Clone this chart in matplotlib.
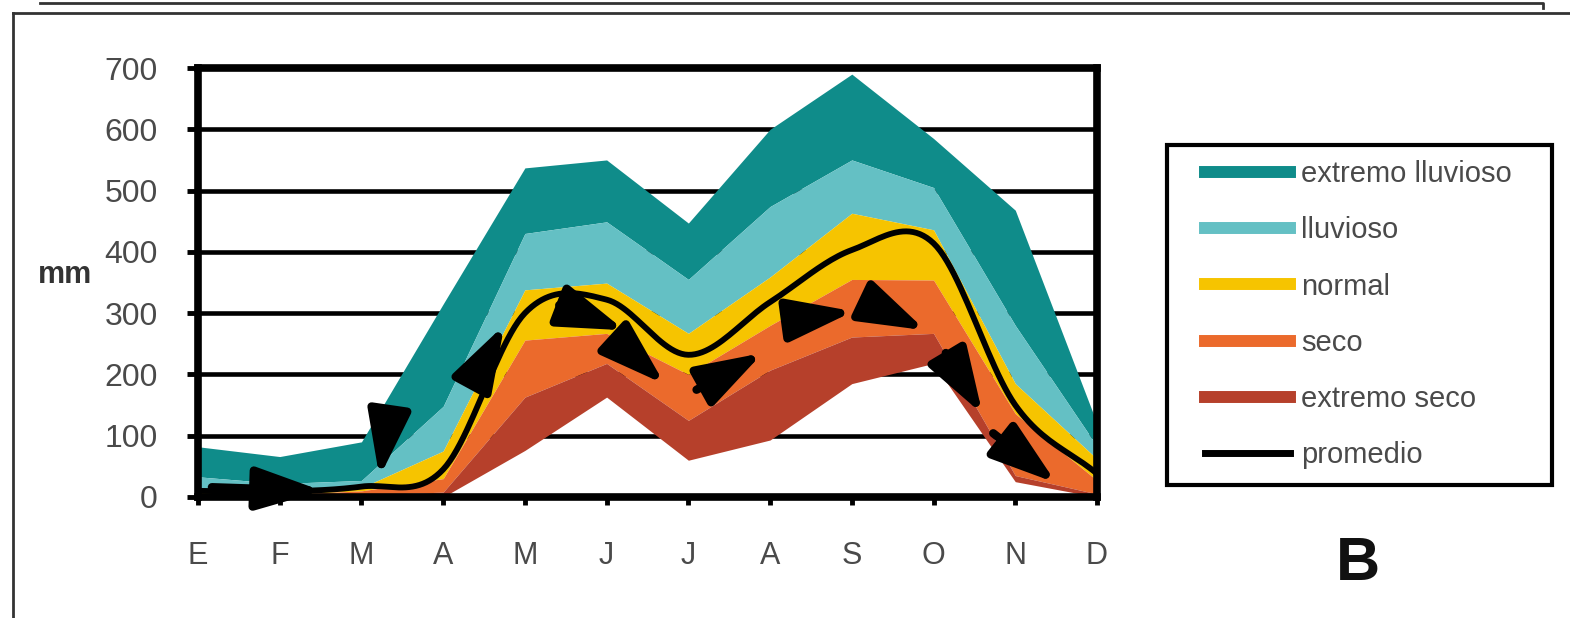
import numpy as np
import matplotlib
matplotlib.use("Agg")
import matplotlib.pyplot as plt
from matplotlib.lines import Line2D
from matplotlib.patches import Rectangle

plt.rcParams['font.family'] = ['Liberation Sans', 'DejaVu Sans']

# ---------------- data ----------------
months = ['E', 'F', 'M', 'A', 'M', 'J', 'J', 'A', 'S', 'O', 'N', 'D']
extremo_lluvioso = [82, 66, 90, 315, 537, 550, 447, 600, 690, 585, 468, 120]
lluvioso         = [33, 22, 27, 148, 430, 449, 355, 474, 550, 505, 280, 83]
normal           = [10, 8, 15, 75, 338, 349, 267, 359, 463, 436, 185, 62]
seco             = [4, 4, 10, 30, 256, 267, 200, 280, 355, 354, 136, 27]
extremo_seco     = [1, 1, 3, 8, 163, 218, 125, 207, 261, 267, 35, 5]
base_seco        = [0, 0, 0, 0, 76, 163, 60, 93, 185, 218, 25, 0]
promedio         = [10, 9, 17, 45, 300, 322, 232, 318, 403, 414, 150, 38]
yticks = [0, 100, 200, 300, 400, 500, 600, 700]

# annotation arrows (tail x, tail y, head x, head y) in data units
arrows = [
    (0.17, 16, 1.52, 10),
    (2.30, 105, 2.22, 32),
    (3.35, 183, 3.75, 281),
    (4.42, 313, 5.22, 272),
    (5.16, 251, 5.71, 184),
    (6.10, 175, 6.91, 235),
    (7.30, 290, 8.02, 303),
    (8.30, 310, 8.90, 272),
    (9.15, 235, 9.60, 135),
    (9.73, 104, 10.50, 23),
]

c_ext_ll = '#0F8C8A'
c_ll = '#64C0C4'
c_norm = '#F6C400'
c_seco = '#EB6A2C'
c_ext_seco = '#B6402B'
grey = '#4a4a4a'

W, H = 1570, 618


def smooth(x, y, n=24):
    pts = np.column_stack([x, y]).astype(float)
    P = np.vstack([2 * pts[0] - pts[1], pts, 2 * pts[-1] - pts[-2]])
    out = []
    t = np.linspace(0, 1, n, endpoint=False)[:, None]
    for i in range(1, len(P) - 2):
        p0, p1, p2, p3 = P[i - 1], P[i], P[i + 1], P[i + 2]
        out.append(0.5 * ((2 * p1) + (-p0 + p2) * t
                          + (2 * p0 - 5 * p1 + 4 * p2 - p3) * t ** 2
                          + (-p0 + 3 * p1 - 3 * p2 + p3) * t ** 3))
    out.append(pts[-1:])
    s = np.vstack(out)
    return s[:, 0], s[:, 1]


fig = plt.figure(figsize=(W / 100, H / 100), dpi=100)
ax = fig.add_axes([198 / W, 1 - 497 / H, (1097 - 198) / W, (497 - 68) / H])

x = np.arange(len(months))
ax.fill_between(x, lluvioso, extremo_lluvioso, color=c_ext_ll, lw=0, zorder=2)
ax.fill_between(x, normal, lluvioso, color=c_ll, lw=0, zorder=2)
ax.fill_between(x, seco, normal, color=c_norm, lw=0, zorder=2)
ax.fill_between(x, extremo_seco, seco, color=c_seco, lw=0, zorder=2)
ax.fill_between(x, base_seco, extremo_seco, color=c_ext_seco, lw=0, zorder=2)

sx, sy = smooth(x, promedio)
ax.plot(sx, sy, color='black', lw=4.2, zorder=3, solid_capstyle='round')

for tx, ty, hx, hy in arrows:
    ax.annotate('', xy=(hx, hy), xytext=(tx, ty),
                arrowprops=dict(arrowstyle='-|>,head_length=4.0,head_width=1.3',
                                lw=6, color='black', shrinkA=0, shrinkB=0,
                                mutation_scale=10),
                zorder=4)

ax.set_xlim(0, 11)
ax.set_ylim(0, 700)
ax.set_yticks(yticks)
ax.set_xticks(x)
ax.set_xticklabels(months)
ax.yaxis.grid(True, color='black', lw=3.3, zorder=0)
ax.set_axisbelow(True)
for s in ax.spines.values():
    s.set_linewidth(5.5)
    s.set_zorder(5)
ax.tick_params(axis='y', direction='out', length=8, width=3.5, pad=21,
               labelsize=23, labelcolor=grey)
ax.tick_params(axis='x', direction='out', length=6, width=3.5, pad=26,
               labelsize=22, labelcolor=grey)

fig.text(65 / W, 1 - 275 / H, 'mm', fontsize=22, fontweight='bold',
         color='#333333', ha='center', va='center')

handles = [
    Line2D([], [], color=c_ext_ll, lw=8.6),
    Line2D([], [], color=c_ll, lw=8.6),
    Line2D([], [], color=c_norm, lw=8.6),
    Line2D([], [], color=c_seco, lw=8.6),
    Line2D([], [], color=c_ext_seco, lw=8.6),
    Line2D([], [], color='black', lw=5),
]
labels = ['extremo lluvioso', 'lluvioso', 'normal', 'seco', 'extremo seco', 'promedio']
leg = fig.legend(handles, labels, loc='upper left',
                 bbox_to_anchor=(1205 / W, 1 - 160 / H),
                 fontsize=21, labelspacing=0.97, handlelength=2.9, handletextpad=0.4,
                 borderpad=0, borderaxespad=0, frameon=False)
for t in leg.get_texts():
    t.set_color(grey)

fig.add_artist(Rectangle((1167 / W, 1 - 485 / H), (1552 - 1167) / W, (485 - 145) / H,
                         transform=fig.transFigure, fill=False,
                         edgecolor='black', lw=3))

fig.text(1358 / W, 1 - 565 / H, 'B', fontsize=44, fontweight='bold',
         ha='center', va='center', color='#111111')

# outer frame lines
fig.add_artist(Line2D([13 / W, 13 / W], [0, 1 - 13 / H],
                      transform=fig.transFigure, color='#333333', lw=2))
fig.add_artist(Line2D([13 / W, 1], [1 - 13 / H, 1 - 13 / H],
                      transform=fig.transFigure, color='#333333', lw=2))
fig.add_artist(Line2D([40 / W, 1543 / W, 1543 / W], [1 - 3 / H, 1 - 3 / H, 1 - 8 / H],
                      transform=fig.transFigure, color='#333333', lw=2))

fig.savefig('out.png', dpi=100)
